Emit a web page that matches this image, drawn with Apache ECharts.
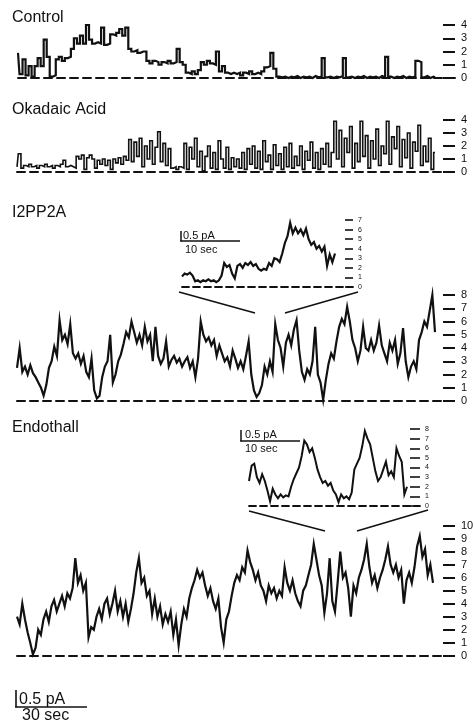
<!DOCTYPE html>
<html><head><meta charset="utf-8">
<script src="https://cdn.jsdelivr.net/npm/echarts@6/dist/echarts.min.js"></script>
<style>html,body{margin:0;padding:0;background:#fff}#c{width:473px;height:721px}</style>
</head><body><div id="c"></div>
<script>
// ---- text ----
const panelTitles = ['Control', 'Okadaic Acid', 'I2PP2A', 'Endothall'];
const insetScaleAmp = '0.5 pA';
const insetScaleTime = '10 sec';
const mainScaleAmp = '0.5 pA';
const mainScaleTime = '30 sec';
// top channel level shown on each axis (ticks 0..max)
const controlLevels = 4;
const okadaicLevels = 4;
const i2MainLevels = 8;
const i2InsetLevels = 7;
const endoInsetLevels = 8;
const endoMainLevels = 10;

// ---- traces (open channel level) ----
const controlTrace = [
1.9,0.3,1.4,0.2,0.9,0.1,0.9,1.5,0.9,2.9,
1.6,0.1,0.2,1.4,1.6,1.3,1.5,1.6,2.2,3.0,
2.6,3.2,2.6,4.0,2.9,2.6,2.7,2.6,3.8,2.5,
2.6,3.3,3.2,3.4,3.7,3.2,3.8,2.2,2.0,2.1,
1.9,2.0,2.0,1.3,1.1,1.3,1.2,1.0,1.2,1.1,
1.3,1.1,1.2,2.2,1.2,1.0,0.4,0.3,0.5,0.3,
0.6,1.2,1.0,1.3,1.1,1.0,2.0,0.5,0.9,0.4,
0.3,0.4,0.3,0.4,0.2,0.4,0.3,0.5,0.3,0.4,
0.3,0.5,0.8,0.9,1.9,0.7,0.1,
0.05,0.1,0.0,0.1,0.05,0.15,0.0,0.1,0.05,0.1,0.0,0.15,0.05,0.1,1.5,0.05,0.1,0.0,0.1,0.05,0.15,1.5,
0.05,0.1,0.0,0.1,0.05,0.15,0.0,0.1,0.05,0.1,0.0,0.15,0.05,1.6,0.1,0.0,0.1,0.05,0.15,0.0,0.1,0.05,0.1,
1.3,1.2,0.05,0.15,0.0,0.1,0.05
];
const okadaicTrace = [
0.4,1.4,0.3,0.5,0.4,0.6,0.4,0.5,0.3,0.5,0.4,0.6,0.4,0.5,0.3,0.5,0.4,0.6,0.9,0.4,0.5,0.4,0.3,
1.2,1.0,1.3,0.2,1.1,1.3,1.0,0.3,
0.9,0.6,1.0,0.5,0.9,0.2,1.0,0.7,1.1,0.6,1.2,0.9,
2.5,0.8,2.3,1.2,2.6,0.4,2.0,1.0,2.4,0.6,1.9,3.1,0.8,2.2,0.5,1.8,
0.3,0.4,0.2,0.4,0.3,
2.2,0.2,1.9,1.0,2.6,0.4,1.6,0.1,1.2,2.0,0.3,1.5,0.2,2.4,1.0,0.3,1.9,0.2,1.1,0.4,1.0,0.3,1.5,0.2,1.8,0.6,2.0,0.3,1.6,0.2,
2.4,0.8,1.3,0.2,2.1,0.5,1.4,0.2,1.9,0.4,2.2,0.3,1.2,0.5,2.0,0.2,1.6,0.9,2.3,0.3,1.5,0.2,1.8,0.6,2.2,0.4,1.5,
3.9,1.0,3.2,0.4,2.6,1.5,3.5,0.3,2.2,0.8,3.9,1.2,2.8,0.3,2.4,1.0,3.3,0.5,2.0,1.4,3.9,0.6,2.7,1.8,3.5,0.4,2.5,1.1,3.0,0.3,
2.3,1.6,3.6,0.5,2.0,0.8,2.6,0.2,1.5
];
const i2MainTrace = [
2.5,4.0,2.2,2.6,2.0,2.7,2.1,1.8,1.4,1.0,0.4,1.2,2.5,3.0,4.1,3.4,6.1,4.6,5.0,4.3,
5.8,3.6,3.2,3.6,2.8,3.4,2.2,1.8,3.2,0.8,0.2,0.4,1.8,2.6,3.0,5.0,1.4,2.0,3.0,3.5,
4.3,5.2,4.8,6.0,5.2,4.4,5.0,4.2,5.6,4.5,5.0,3.0,5.6,3.4,2.8,3.2,4.5,2.6,3.1,3.4,
2.9,3.2,2.6,3.0,3.3,2.5,3.0,1.8,3.2,6.0,5.0,4.5,4.8,4.2,4.6,3.4,4.2,3.6,3.0,3.3,
2.6,3.8,3.2,2.5,3.0,2.4,3.4,4.5,2.0,0.8,0.3,0.6,1.2,2.6,2.0,3.0,2.2,5.8,4.6,4.0,
2.6,4.4,5.0,4.2,5.4,6.1,3.8,2.2,1.6,2.4,2.0,3.0,5.6,2.0,1.4,0.1,1.6,2.8,3.6,3.2,
4.5,5.6,6.2,5.8,7.1,6.0,4.6,4.0,3.0,3.8,5.6,4.0,3.8,4.6,3.8,4.4,5.7,4.2,3.6,3.0,
4.4,3.8,4.6,2.8,3.6,5.5,3.0,1.8,2.6,3.0,2.4,4.6,5.2,6.0,5.6,6.8,8.0,5.2
];
const i2InsetTrace = [
1.1,1.4,1.3,1.5,1.2,0.6,0.7,0.5,0.7,0.6,0.8,0.6,0.7,0.5,0.7,1.2,2.5,2.1,2.3,1.4,
0.9,2.2,2.4,2.0,2.5,2.3,2.6,2.2,2.4,1.9,1.7,1.9,1.8,2.5,2.2,3.0,2.9,2.6,3.5,4.6,
5.3,6.7,5.6,6.2,5.6,6.0,5.4,6.1,5.0,4.4,4.7,4.0,4.3,3.7,4.2,2.2,3.4,2.6,3.5
];
const endoInsetTrace = [
2.6,4.2,4.4,3.0,2.4,3.3,2.6,1.6,0.5,1.8,1.2,0.8,1.2,0.9,1.1,1.0,2.0,2.8,3.4,4.0,
5.2,6.8,6.4,5.6,6.0,5.0,3.8,3.0,2.4,2.6,2.1,2.4,1.6,1.2,0.4,1.2,0.8,1.0,0.7,1.4,
3.8,4.4,5.0,6.2,7.8,7.0,6.4,5.0,3.6,2.6,3.0,3.8,4.6,3.2,3.6,3.0,6.0,5.2,4.6,1.2,2.0
];
const endoMainTrace = [
3.0,2.4,4.0,2.8,1.8,1.0,0.1,0.6,2.0,1.6,2.8,3.4,2.6,3.8,4.3,3.4,4.0,4.6,3.8,4.8,
4.4,5.2,7.5,5.6,6.2,5.0,5.6,1.4,2.2,2.0,3.0,3.6,2.8,4.0,4.4,3.2,4.0,5.0,3.4,4.2,
3.0,4.0,2.6,3.6,4.8,6.4,7.5,5.6,6.0,4.6,5.0,3.2,4.4,3.0,3.8,2.4,3.2,2.6,3.4,1.6,
2.8,0.8,2.4,3.6,3.0,4.4,5.2,5.8,6.6,6.0,6.4,5.4,4.6,5.2,4.2,3.6,4.4,2.2,1.0,2.8,
3.4,4.6,5.6,6.2,5.8,6.8,6.4,8.1,7.2,6.6,5.8,6.4,5.4,5.0,4.2,5.4,4.8,5.2,4.4,5.0,
4.6,6.8,5.6,5.0,5.8,4.8,4.2,3.8,5.0,5.4,6.2,7.0,8.6,7.4,6.2,5.4,3.3,4.8,7.5,4.2,
3.4,5.6,8.0,6.0,6.4,5.2,3.0,5.4,4.8,6.0,6.6,7.4,8.6,6.8,5.6,6.2,5.2,6.0,6.6,7.4,
8.4,7.0,6.4,7.0,6.0,6.6,4.0,5.8,6.4,5.6,6.8,8.4,9.2,7.6,8.2,6.2,7.0,5.6
];

// ---- layout (pixels) ----
const FONT = 'Liberation Sans, Arial, Helvetica, sans-serif';
const INK = '#111';
const panels = [
  {data: controlTrace, levels: controlLevels, left: 18, traceRight: 435, right: 455, top: 25, bottom: 78, lw: 2.2, step: 'middle', tickLen: 12, fs: 11, dash: [8,5], dashW: 2},
  {data: okadaicTrace, levels: okadaicLevels, left: 17, traceRight: 435, right: 455, top: 120, bottom: 172, lw: 1.6, step: 'middle', tickLen: 12, fs: 11, dash: [8,5], dashW: 2},
  {data: i2MainTrace, levels: i2MainLevels, left: 17, traceRight: 435, right: 455, top: 295, bottom: 401, lw: 2.2, step: false, tickLen: 12, fs: 11, dash: [8,5], dashW: 2},
  {data: i2InsetTrace, levels: i2InsetLevels, left: 182, traceRight: 335, right: 353, top: 220, bottom: 287, lw: 2.2, step: false, tickLen: 8, fs: 7, dash: [7,4], dashW: 1.8},
  {data: endoInsetTrace, levels: endoInsetLevels, left: 249, traceRight: 407, right: 420, top: 429, bottom: 506, lw: 2.0, step: false, tickLen: 10, fs: 7, dash: [7,4], dashW: 1.8},
  {data: endoMainTrace, levels: endoMainLevels, left: 17, traceRight: 433, right: 455, top: 525.7, bottom: 655.7, lw: 2.2, step: false, tickLen: 12, fs: 11, dash: [8,5], dashW: 2}
];

const grid = [], xAxis = [], yAxis = [], series = [];
panels.forEach((p, k) => {
  const gw = p.right - p.left, tw = p.traceRight - p.left;
  const n = p.data.length;
  grid.push({left: p.left, top: p.top, width: gw, height: p.bottom - p.top, containLabel: false, outerBoundsMode: 'none'});
  xAxis.push({type: 'value', gridIndex: k, min: 0, max: (n - 1) * gw / tw,
    axisLine: {show: true, onZero: true, lineStyle: {color: INK, width: p.dashW, type: p.dash}},
    axisTick: {show: false}, axisLabel: {show: false}, splitLine: {show: false}});
  yAxis.push({type: 'value', gridIndex: k, position: 'right', offset: -p.tickLen, min: 0, max: p.levels, interval: 1,
    axisLine: {show: false, onZero: false},
    axisTick: {show: true, inside: false, length: p.tickLen, lineStyle: {color: INK, width: p.fs > 8 ? 2 : 1.6}},
    axisLabel: {show: true, inside: false, margin: p.tickLen + (p.fs > 8 ? 6 : 5), color: INK, fontSize: p.fs, fontFamily: FONT},
    splitLine: {show: false}});
  series.push({type: 'line', xAxisIndex: k, yAxisIndex: k, data: p.data.map((v, i) => [i, v]), step: p.step,
    showSymbol: false, symbol: 'none', clip: false, lineStyle: {color: INK, width: p.lw, join: 'miter'}, animation: false});
});

function txt(s, x, y, size) {
  return {type: 'text', x: x, y: y, style: {text: s, fill: INK, font: size + 'px ' + FONT, verticalAlign: 'middle', textVerticalAlign: 'middle'}};
}
function ln(x1, y1, x2, y2, w) {
  return {type: 'line', shape: {x1: x1, y1: y1, x2: x2, y2: y2}, style: {stroke: INK, lineWidth: w || 1.5}};
}
const titleY = [18, 110, 213, 428];
const graphic = [];
panelTitles.forEach((t, i) => graphic.push(txt(t, 12, titleY[i], 16)));
// I2PP2A inset scale bar + zoom lines
graphic.push(ln(181, 231, 181, 241.5, 1.5), ln(180.3, 241, 240, 241, 1.5));
graphic.push(txt(insetScaleAmp, 183, 235.5, 11), txt(insetScaleTime, 185, 250, 11));
graphic.push(ln(179, 292, 255, 313, 1.6), ln(285, 313, 358, 292, 1.6));
// Endothall inset scale bar + zoom lines
graphic.push(ln(241, 430, 241, 441.5, 1.5), ln(240.3, 441, 300, 441, 1.5));
graphic.push(txt(insetScaleAmp, 245, 434.5, 11), txt(insetScaleTime, 245, 449, 11));
graphic.push(ln(249, 511, 325, 531, 1.6), ln(357, 531, 428, 510, 1.6));
// main scale bar
graphic.push(ln(16, 690, 16, 707.5, 1.6), ln(15.2, 707, 87, 707, 1.6));
graphic.push(txt(mainScaleAmp, 19, 700, 16), txt(mainScaleTime, 22, 716, 16));

const chart = echarts.init(document.getElementById('c'), null, {renderer: 'canvas'});
chart.setOption({backgroundColor: '#fff', animation: false, grid, xAxis, yAxis, series, graphic});
</script>
</body></html>
